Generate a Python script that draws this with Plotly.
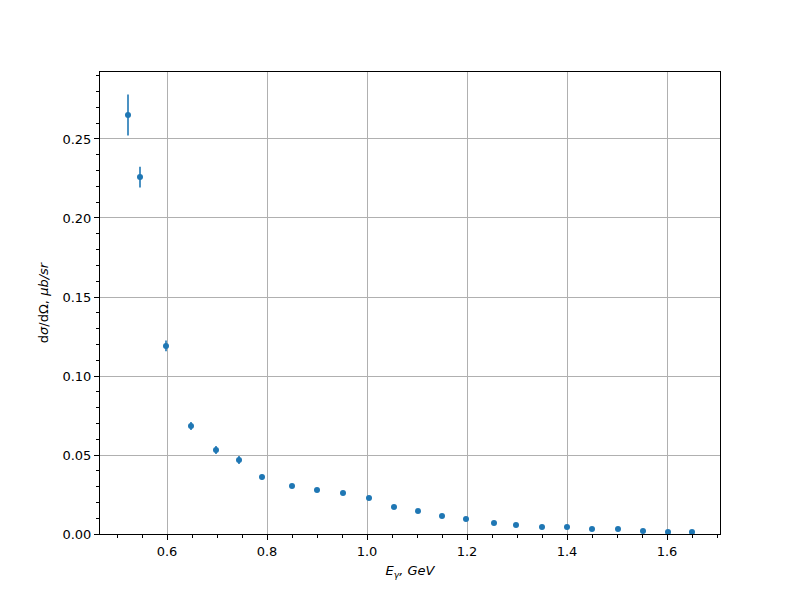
import plotly.graph_objects as go

energy = [0.522, 0.546, 0.598, 0.648, 0.698, 0.744, 0.790, 0.850, 0.900, 0.952,
          1.004, 1.054, 1.102, 1.150, 1.198, 1.254, 1.298, 1.350, 1.400, 1.450,
          1.502, 1.552, 1.602, 1.650]
cross_section = [0.2652, 0.2259, 0.1190, 0.0684, 0.0532, 0.0468, 0.0360, 0.0304,
                 0.0278, 0.0260, 0.0228, 0.0171, 0.0146, 0.0114, 0.0095, 0.0070,
                 0.0057, 0.0044, 0.0044, 0.0032, 0.0032, 0.0019, 0.0013, 0.0013]
errors = [0.0130, 0.0066, 0.0034, 0.0025, 0.0025, 0.0025, 0.0015, 0.0010,
          0.0010, 0.0010, 0.0010, 0.0008, 0.0008, 0.0008, 0.0007, 0.0006,
          0.0006, 0.0005, 0.0005, 0.0004, 0.0004, 0.0004, 0.0003, 0.0003]

x_ticks = [0.6, 0.8, 1.0, 1.2, 1.4, 1.6]
x_tick_labels = ["0.6", "0.8", "1.0", "1.2", "1.4", "1.6"]
y_ticks = [0.0, 0.05, 0.10, 0.15, 0.20, 0.25]
y_tick_labels = ["0.00", "0.05", "0.10", "0.15", "0.20", "0.25"]

blue = "#1f77b4"
font = dict(family="DejaVu Sans", size=13, color="black")

fig = go.Figure()
fig.add_trace(go.Scatter(
    x=energy, y=cross_section, mode="markers",
    marker=dict(color=blue, size=6),
    error_y=dict(type="data", array=errors, visible=True, color=blue,
                 thickness=1.6, width=0),
    showlegend=False,
))

axis_common = dict(
    showline=True, linecolor="black", linewidth=1, mirror=True,
    ticks="outside", ticklen=5, tickwidth=1, tickcolor="black",
    showgrid=True, gridcolor="#b0b0b0", gridwidth=1,
    zeroline=False, tickfont=font,
)

fig.update_layout(
    width=800, height=600,
    margin=dict(l=92, r=88, t=64, b=74),
    paper_bgcolor="white", plot_bgcolor="white",
    font=font,
    xaxis=dict(
        range=[0.466, 1.706], tickvals=x_ticks, ticktext=x_tick_labels,
        minor=dict(dtick=0.05, tick0=0, ticks="outside", ticklen=3,
                   tickcolor="black", showgrid=False),
        title=dict(text="<i>E</i><sub><i>γ</i></sub><i>, GeV</i>",
                   font=font, standoff=8),
        **axis_common,
    ),
    yaxis=dict(
        range=[0, 0.2924], tickvals=y_ticks, ticktext=y_tick_labels,
        minor=dict(dtick=0.01, tick0=0, ticks="outside", ticklen=3,
                   tickcolor="black", showgrid=False),
        title=dict(text="d<i>σ</i>/dΩ, <i>μb/sr</i>", font=font, standoff=10),
        **axis_common,
    ),
)

fig.write_html("out.html")
